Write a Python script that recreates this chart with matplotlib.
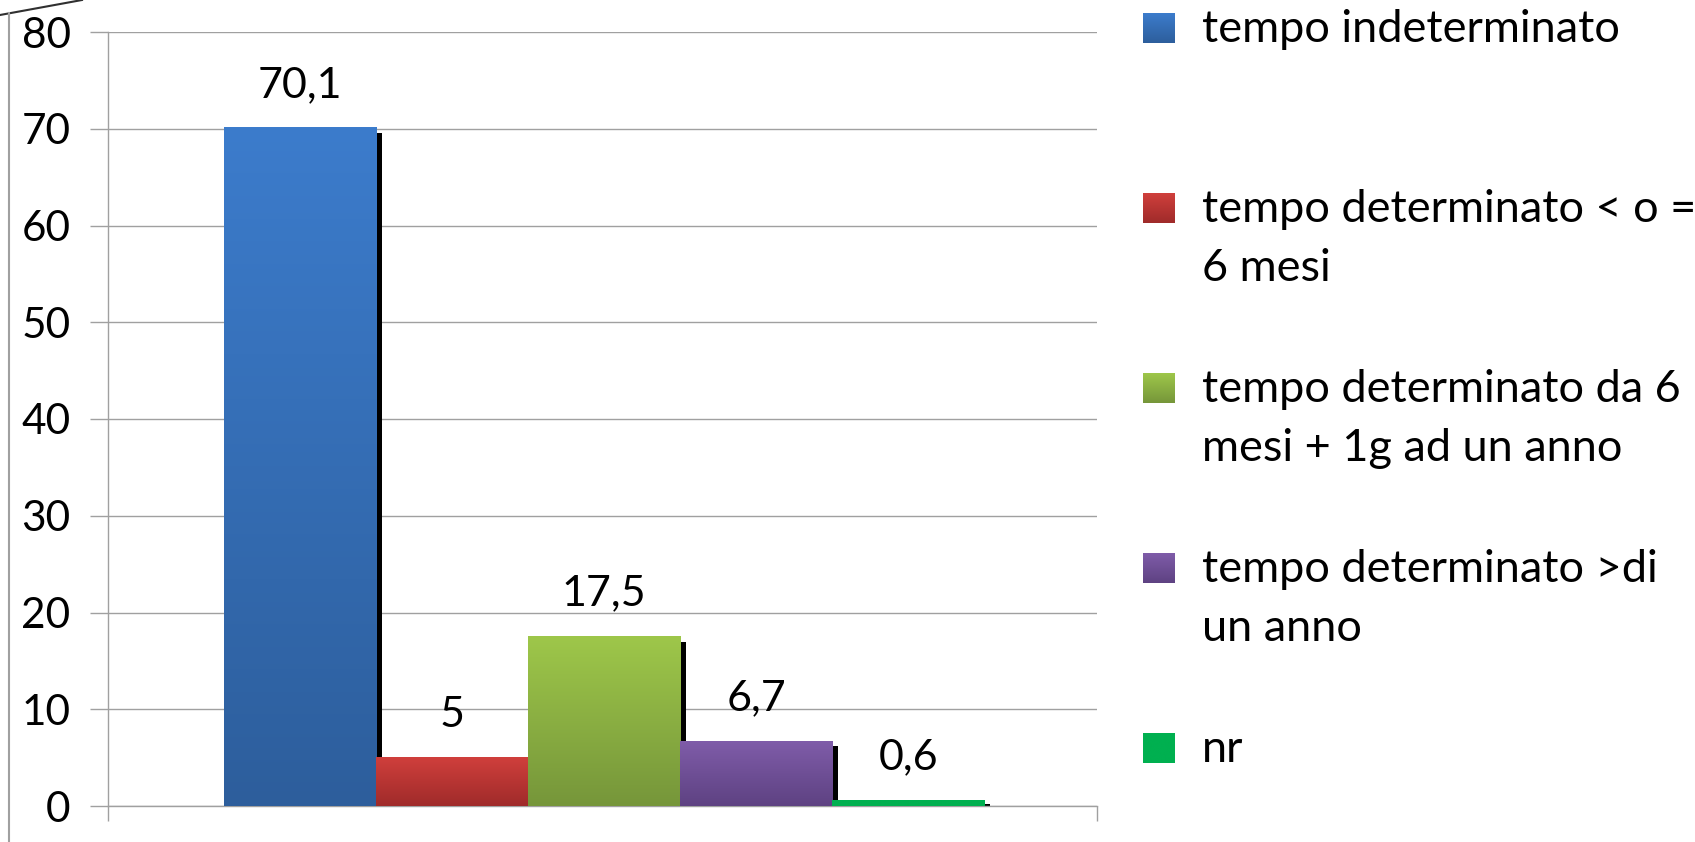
import numpy as np
import matplotlib
matplotlib.use('Agg')
import matplotlib.pyplot as plt
from matplotlib.colors import to_rgb

plt.rcParams['font.family'] = ['Lato', 'DejaVu Sans']

# data
categories = ['tempo indeterminato',
              'tempo determinato < o =\n6 mesi',
              'tempo determinato da 6\nmesi + 1g ad un anno',
              'tempo determinato >di\nun anno',
              'nr']
values = [70.1, 5, 17.5, 6.7, 0.6]
yticks = [0, 10, 20, 30, 40, 50, 60, 70, 80]

# gradient colours (top, bottom)
colors = [('#3C7CCC', '#2D5E9C'),
          ('#D03F3C', '#9F2B2A'),
          ('#9EC74A', '#76963A'),
          ('#7F5CA9', '#5E4282'),
          ('#00B050', '#00B050')]


def grad(top, bottom, n=256):
    t = np.linspace(0, 1, n).reshape(-1, 1)
    c0 = np.array(to_rgb(top))
    c1 = np.array(to_rgb(bottom))
    return (c0 * (1 - t) + c1 * t).reshape(n, 1, 3)


W, H = 1695, 842
fig = plt.figure(figsize=(W / 100, H / 100), dpi=100)
ax = fig.add_axes([108 / W, 1 - 806 / H, (1097 - 108) / W, (806 - 32) / H])

xs = np.arange(len(values))
width = 1.0
for i, (x, v) in enumerate(zip(xs, values)):
    x0, x1 = x - width / 2, x + width / 2
    # dark side of the 3d bar
    ax.bar(x1 + 0.02, max(v - 0.55, 0.25), width=0.04, color='black', zorder=2)
    ax.imshow(grad(*colors[i]), extent=(x0, x1, 0, v), aspect='auto',
              origin='upper', zorder=3, interpolation='bilinear')
    lab = f'{v:g}'.replace('.', ',')
    ax.annotate(lab, (x, v), xytext=(0, 31), textcoords='offset points',
                ha='center', va='center', fontsize=31)

ax.set_xlim(-1.26, 5.24)
ax.set_ylim(0, 80)
ax.set_yticks(yticks)
ax.set_yticklabels([str(t) for t in yticks], fontsize=30.5)
ax.set_xticks([-1.26, 5.24])
ax.set_xticklabels(['', ''])
ax.tick_params(axis='y', length=13, width=1, color='#A0A0A0', pad=14)
ax.tick_params(axis='x', length=11, width=1, color='#A0A0A0')
ax.yaxis.grid(True, color='#A0A0A0', lw=1)
ax.set_axisbelow(True)
for s in ['top', 'right']:
    ax.spines[s].set_visible(False)
for s in ['left', 'bottom']:
    ax.spines[s].set_color('#A0A0A0')
    ax.spines[s].set_linewidth(1)

# overlay in pixel coordinates for legend and wall edges
ov = fig.add_axes([0, 0, 1, 1])
ov.set_xlim(0, W)
ov.set_ylim(H, 0)
ov.axis('off')
ov.patch.set_alpha(0)
ov.plot([0, 82], [15, 0], color='#303030', lw=1.5)
ov.plot([9, 9], [13, H], color='#A0A0A0', lw=1.5)

for i, lab in enumerate(categories):
    cy = 28 + 180 * i
    ov.imshow(grad(*colors[i]), extent=(1143, 1175, cy + 15, cy - 15),
              aspect='auto', origin='upper', interpolation='bilinear')
    for j, line in enumerate(lab.split('\n')):
        ov.text(1202, cy + 14 + 59 * j, line, fontsize=32.5, va='baseline', ha='left')
ov.set_xlim(0, W)
ov.set_ylim(H, 0)

fig.savefig('out.png', dpi=100)
